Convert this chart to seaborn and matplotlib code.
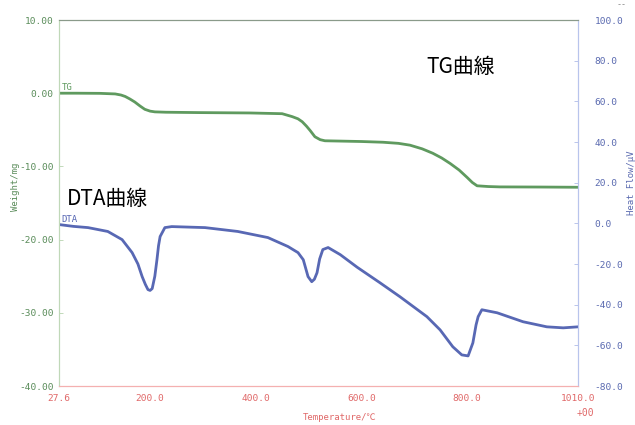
import numpy as np
import pandas as pd
import matplotlib
matplotlib.use("Agg")
import matplotlib.pyplot as plt
import seaborn as sns

# ---- data ----
tg_temp = [27.6, 60, 105, 134, 145, 153, 162, 171, 181, 190, 200, 209, 230, 294, 389, 450, 469, 480,
           488, 496, 503, 512, 522, 531, 600, 641, 670, 692, 715, 735, 752, 768, 785, 800, 810, 819,
           840, 862, 940, 1010]
tg_mg = [0.0, 0.0, -0.02, -0.1, -0.25, -0.45, -0.8, -1.2, -1.75, -2.2, -2.45, -2.55, -2.6, -2.65, -2.7,
         -2.8, -3.2, -3.5, -3.9, -4.5, -5.1, -5.95, -6.35, -6.5, -6.6, -6.7, -6.85, -7.1, -7.6, -8.2,
         -8.85, -9.6, -10.5, -11.5, -12.2, -12.65, -12.75, -12.8, -12.82, -12.85]

dta_temp = [27.6, 55, 82.5, 120, 147, 166, 177, 185, 191, 196, 200, 204, 209, 213, 216, 219, 228,
            241, 304, 366, 423, 461, 480, 490, 499, 506, 511, 516, 521, 527, 537, 560, 592, 635, 673,
            724, 749, 773, 790, 802, 811, 817, 821, 828, 857, 906, 951, 982, 1010]
dta_uv = [-0.6, -1.5, -2.1, -4.0, -8.0, -14.4, -20.0, -26.2, -30.0, -32.6, -33.0, -32.1, -26.0, -17.9,
          -11.0, -6.5, -2.1, -1.6, -2.1, -4.0, -7.0, -11.4, -14.4, -17.9, -26.2, -28.7, -27.5, -24.3,
          -17.5, -12.9, -11.9, -15.4, -21.6, -29.2, -36.1, -45.9, -52.4, -60.7, -64.7, -65.2, -58.8,
          -50.0, -45.9, -42.5, -44.0, -48.4, -50.9, -51.4, -50.9]

x_ticks = [27.6, 200, 400, 600, 800, 1010]
x_ticklabels = ["27.6", "200.0", "400.0", "600.0", "800.0", "1010.0"]
left_ticks = [10, 0, -10, -20, -30, -40]
left_ticklabels = ["10.00", "0.00", "-10.00", "-20.00", "-30.00", "-40.00"]
right_ticks = [100, 80, 60, 40, 20, 0, -20, -40, -60, -80]
right_ticklabels = ["100.0", "80.0", "60.0", "40.0", "20.0", "0.0", "-20.0", "-40.0", "-60.0", "-80.0"]

tg_df = pd.DataFrame({"temp": tg_temp, "mg": tg_mg})
dta_df = pd.DataFrame({"temp": dta_temp, "uv": dta_uv})

sns.set_style("white")
MONO = ["DejaVu Sans Mono", "Noto Sans CJK JP"]
plt.rcParams["font.family"] = MONO

GREEN = "#5f9a5f"
BLUE = "#5868b4"
RED = "#e06868"
GTXT = "#5a8c5a"
BTXT = "#5a6ab0"

fig = plt.figure(figsize=(6.35, 4.25), dpi=100)
ax = fig.add_axes([59/635, 1 - 386/425, (578 - 59)/635, (386 - 20)/425])
ax2 = ax.twinx()

sns.lineplot(data=tg_df, x="temp", y="mg", ax=ax, color=GREEN, linewidth=2.0, sort=False)
sns.lineplot(data=dta_df, x="temp", y="uv", ax=ax2, color=BLUE, linewidth=2.0, sort=False)

ax.set_xlim(27.6, 1010)
ax.set_ylim(-40, 10)
ax2.set_ylim(-80, 100)

ax.set_xticks(x_ticks)
ax.set_xticklabels(x_ticklabels)
ax.set_yticks(left_ticks)
ax.set_yticklabels(left_ticklabels)
ax2.set_yticks(right_ticks)
ax2.set_yticklabels(right_ticklabels)

ax.tick_params(axis="x", direction="in", length=4, width=0.6, color="#f0a0a0",
               labelcolor=RED, labelsize=6.8, pad=6)
ax.tick_params(axis="y", direction="in", length=3, width=0.6, color="#b8d4b0",
               labelcolor=GTXT, labelsize=6.8, pad=4)
ax2.tick_params(axis="y", direction="in", length=3, width=0.6, color="#b0bce8",
                labelcolor=BTXT, labelsize=6.8, pad=12)

for a in (ax, ax2):
    a.spines["top"].set_color("#8a9a8a")
    a.spines["left"].set_color("#c0d8b8")
    a.spines["bottom"].set_color("#f4b0b0")
    a.spines["right"].set_color("#b8c4ec")
    for s in a.spines.values():
        s.set_linewidth(0.8)
    a.grid(False)

ax.set_xlabel("")
ax.set_ylabel("")
ax2.set_ylabel("")

fig.text(340/635, 1 - 418/425, "Temperature/℃", color=RED, fontsize=6.5, family=MONO,
         ha="center", va="center")
fig.text(15/635, 1 - 187/425, "Weight/mg", color=GTXT, fontsize=6.5, family=MONO,
         ha="center", va="center", rotation=90)
fig.text(631/635, 1 - 183/425, "Heat Flow/μV", color=BTXT, fontsize=6.5, family=MONO,
         ha="center", va="center", rotation=90)

# small curve tags and annotations
ax.text(32, 0.15, "TG", color=GREEN, fontsize=6.5, family=MONO, ha="left", va="bottom")
ax2.text(32, -0.5, "DTA", color=BLUE, fontsize=6.5, family=MONO, ha="left", va="bottom")

cjk = ["Noto Sans CJK JP", "DejaVu Sans"]
fig.text(426/635, 1 - 67/425, "TG曲線", family=cjk, fontsize=15, color="black",
         ha="left", va="center")
fig.text(67/635, 1 - 199/425, "DTA曲線", family=cjk, fontsize=15, color="black",
         ha="left", va="center")
fig.text(585/635, 1 - 413/425, "+00", color=RED, fontsize=7, ha="center", va="center")
fig.text(622/635, 1 - 5/425, "--", color="#888888", fontsize=6, ha="center", va="center")

fig.savefig("out.png", dpi=100, facecolor="white")
